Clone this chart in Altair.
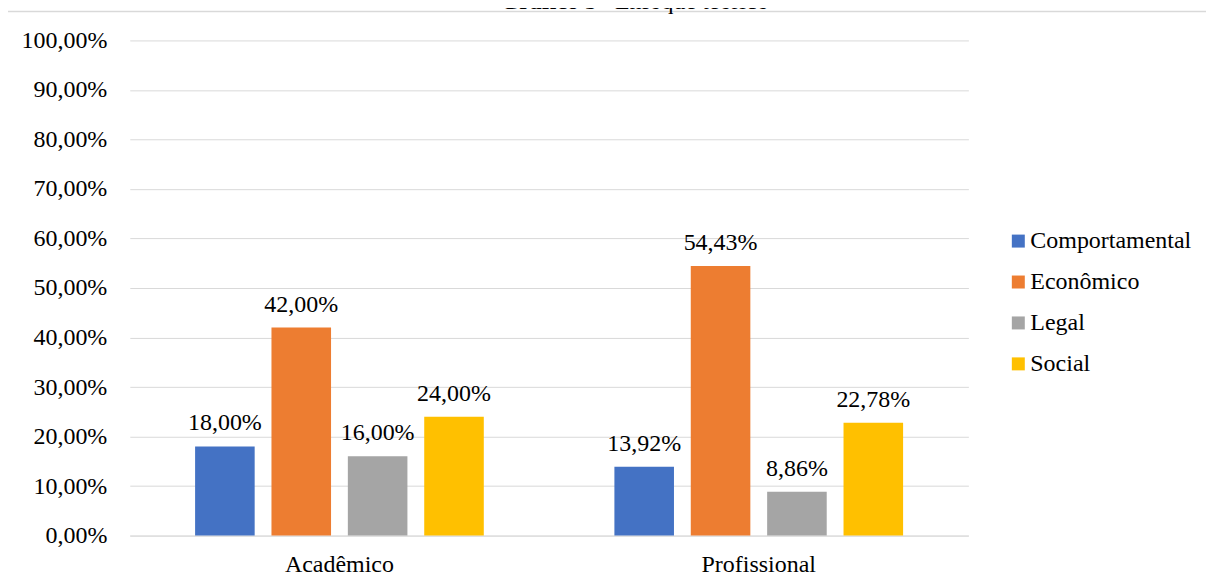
import altair as alt
import pandas as pd

categories = ["Acadêmico", "Profissional"]
series = ["Comportamental", "Econômico", "Legal", "Social"]
academico = [0.18, 0.42, 0.16, 0.24]
profissional = [0.1392, 0.5443, 0.0886, 0.2278]
colors = ["#4472C4", "#ED7D31", "#A5A5A5", "#FFC000"]
y_ticks = [0.0, 0.1, 0.2, 0.3, 0.4, 0.5, 0.6, 0.7, 0.8, 0.9, 1.0]
title_bold = "Gráfico 5"
title_rest = " – Enfoque teórico"

rows = []
for cat, vals in zip(categories, [academico, profissional]):
    for s, v in zip(series, vals):
        rows.append({"grupo": cat, "serie": s, "valor": v})
df = pd.DataFrame(rows)

FONT = "Liberation Serif"
FS = 24

x = alt.X("grupo:N", sort=categories, title=None,
          scale=alt.Scale(paddingInner=0, paddingOuter=0),
          axis=alt.Axis(labelAngle=0, ticks=False, domainColor="#d9d9d9",
                        labelFontSize=FS, labelFont=FONT, labelColor="#000000",
                        labelPadding=17))
xo = alt.XOffset("serie:N", sort=series,
                 scale=alt.Scale(paddingInner=0.22, paddingOuter=0.855))
y = alt.Y("valor:Q", title=None,
          scale=alt.Scale(domain=[0, 1]),
          axis=alt.Axis(values=y_ticks, format=".2%", grid=True, gridColor="#d9d9d9",
                        domain=False, ticks=False, labelFontSize=FS, labelFont=FONT,
                        labelColor="#000000", labelPadding=23))
color = alt.Color("serie:N", sort=series,
                  scale=alt.Scale(domain=series, range=colors),
                  legend=alt.Legend(title=None, orient="none", legendX=878, legendY=189,
                                    symbolType="square", symbolSize=169,
                                    symbolStrokeWidth=0, labelFontSize=FS,
                                    labelFont=FONT, labelColor="#000000",
                                    rowPadding=17, labelOffset=0, labelLimit=400))

bars = alt.Chart(df).mark_bar().encode(x=x, xOffset=xo, y=y, color=color)
labels = alt.Chart(df).mark_text(baseline="alphabetic", dy=-16, font=FONT,
                                 fontSize=FS, color="#000000").encode(
    x=alt.X("grupo:N", sort=categories), xOffset=alt.XOffset("serie:N", sort=series),
    y="valor:Q", text=alt.Text("valor:Q", format=".2%"))

one = pd.DataFrame({"a": [0]})
border = alt.Chart(one).mark_rule(color="#d9d9d9", strokeWidth=1.5).encode(
    x=alt.value(-122), x2=alt.value(1078), y=alt.value(-29))
t1 = alt.Chart(one).mark_text(font=FONT, fontSize=FS, fontWeight="bold",
                              align="right", baseline="alphabetic", color="#000000").encode(
    x=alt.value(468), y=alt.value(-31), text=alt.value(title_bold))
t2 = alt.Chart(one).mark_text(font=FONT, fontSize=FS, align="left",
                              baseline="alphabetic", color="#000000").encode(
    x=alt.value(468), y=alt.value(-31), text=alt.value(title_rest))

chart = alt.layer(bars, labels, border, t1, t2).properties(
    width=840, height=496,
    autosize=alt.AutoSizeParams(type="none"),
    padding={"left": 122, "top": 32, "right": 238, "bottom": 40},
).configure(
    font=FONT,
    view={"stroke": None},
    text={"font": FONT},
    legend={"labelFont": FONT},
    locale={"number": {"decimal": ",", "thousands": ".", "grouping": [3],
                       "currency": ["R$", ""]}},
)

chart.save("out.html", embed_options={"renderer": "svg", "actions": False})
